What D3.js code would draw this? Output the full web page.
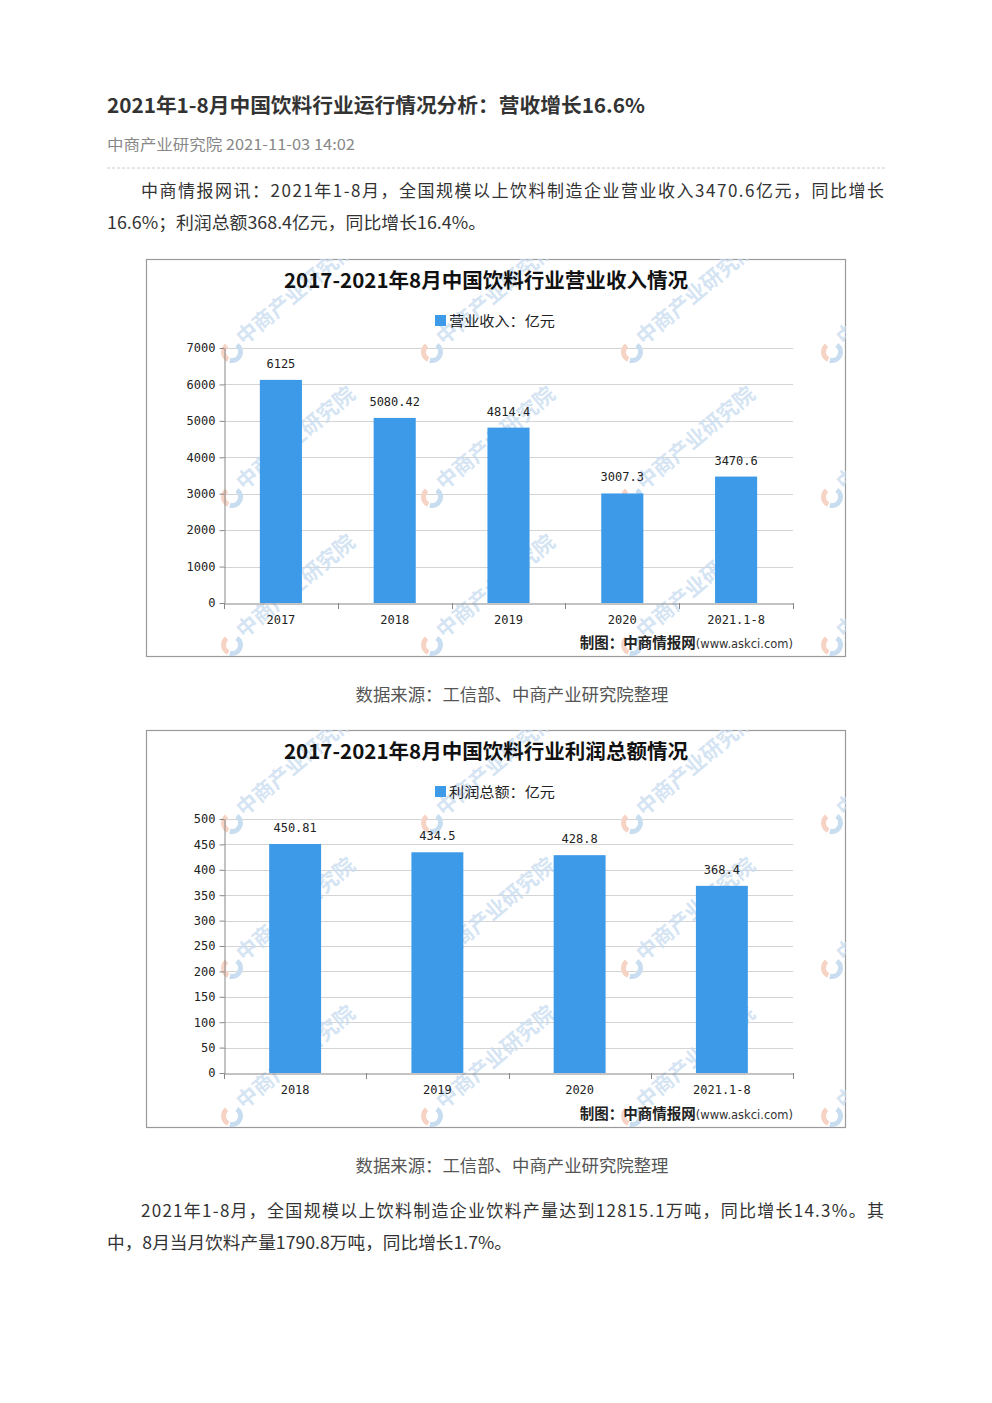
<!DOCTYPE html>
<html><head><meta charset="utf-8">
<script src="https://cdn.jsdelivr.net/npm/d3@7/dist/d3.min.js"></script>
<style>
html,body{margin:0;padding:0;background:#fff;}
svg{display:block;}
</style></head>
<body>
<svg id="page" width="992" height="1403"></svg>
<script>
// ---------- data ----------
const revenueCategories = ["2017", "2018", "2019", "2020", "2021.1-8"];
const revenueValues = [6125, 5080.42, 4814.4, 3007.3, 3470.6];
const revenueLabels = ["6125", "5080.42", "4814.4", "3007.3", "3470.6"];
const revenueTicks = [0, 1000, 2000, 3000, 4000, 5000, 6000, 7000];

const profitCategories = ["2018", "2019", "2020", "2021.1-8"];
const profitValues = [450.81, 434.5, 428.8, 368.4];
const profitLabels = ["450.81", "434.5", "428.8", "368.4"];
const profitTicks = [0, 50, 100, 150, 200, 250, 300, 350, 400, 450, 500];

const pageTitle = "2021年1-8月中国饮料行业运行情况分析：营收增长16.6%";
const pageMeta = "中商产业研究院 2021-11-03 14:02";
const para1 = ["中商情报网讯：2021年1-8月，全国规模以上饮料制造企业营业收入3470.6亿元，同比增长",
               "16.6%；利润总额368.4亿元，同比增长16.4%。"];
const para2 = ["2021年1-8月，全国规模以上饮料制造企业饮料产量达到12815.1万吨，同比增长14.3%。其",
               "中，8月当月饮料产量1790.8万吨，同比增长1.7%。"];
const sourceText = "数据来源：工信部、中商产业研究院整理";
const chart1Title = "2017-2021年8月中国饮料行业营业收入情况";
const chart1Legend = "营业收入：亿元";
const chart2Title = "2017-2021年8月中国饮料行业利润总额情况";
const chart2Legend = "利润总额：亿元";
const creditA = "制图：中商情报网";
const creditB = "(www.askci.com)";
const watermark = "中商产业研究院";

// ---------- page ----------
const svg = d3.select("#page");
const CJK = "'Noto Sans CJK SC','Noto Sans',sans-serif";
const MONO = "'DejaVu Sans Mono','Liberation Mono',monospace";

svg.append("text").attr("x", 107).attr("y", 113)
  .attr("font-family", CJK).attr("font-size", 20).attr("font-weight", 700)
  .attr("fill", "#333").attr("textLength", 538).attr("lengthAdjust", "spacingAndGlyphs")
  .text(pageTitle);
svg.append("text").attr("x", 107).attr("y", 150)
  .attr("font-family", CJK).attr("font-size", 15).attr("fill", "#888")
  .attr("textLength", 248).attr("lengthAdjust", "spacingAndGlyphs")
  .text(pageMeta);
svg.append("line").attr("x1", 107).attr("x2", 885).attr("y1", 168).attr("y2", 168)
  .attr("stroke", "#ccc").attr("stroke-dasharray", "3,2");

function para(lines, y0, len2) {
  svg.append("text").attr("x", 141).attr("y", y0)
    .attr("font-family", CJK).attr("font-size", 17).attr("fill", "#333")
    .attr("textLength", 743).attr("lengthAdjust", "spacing").text(lines[0]);
  svg.append("text").attr("x", 107).attr("y", y0 + 32)
    .attr("font-family", CJK).attr("font-size", 17).attr("fill", "#333")
    .attr("textLength", len2).attr("lengthAdjust", "spacingAndGlyphs")
    .text(lines[1]);
}
para(para1, 197, 379);
para(para2, 1217, 405);

function caption(y) {
  svg.append("text").attr("x", 512).attr("y", y).attr("text-anchor", "middle")
    .attr("font-family", CJK).attr("font-size", 17).attr("fill", "#555")
    .attr("textLength", 313).attr("lengthAdjust", "spacingAndGlyphs")
    .text(sourceText);
}
caption(701);
caption(1172);

// ---------- charts ----------
function drawChart(opt) {
  const g = svg.append("g");
  const bx = 146, bw = 700, by = opt.top, bh = 398;
  const clipId = "clip" + opt.top;
  svg.append("defs").append("clipPath").attr("id", clipId)
    .append("rect").attr("x", bx).attr("y", by).attr("width", bw).attr("height", bh);

  g.append("rect").attr("x", bx + 0.5).attr("y", by + 0.5).attr("width", bw - 1).attr("height", bh - 1)
    .attr("fill", "#fff").attr("stroke", "#9a9a9a").attr("stroke-width", 1.2);

  const plotL = 224, plotR = 793, plotTop = by + opt.plotTopOff, plotBot = by + opt.plotBotOff;
  const x = d3.scaleBand().domain(opt.categories).range([plotL, plotR]).padding(0);
  const y = d3.scaleLinear().domain([0, opt.ticks[opt.ticks.length - 1]]).range([plotBot, plotTop]);

  // grid
  g.selectAll(".grid").data(opt.ticks.slice(1)).join("line")
    .attr("x1", plotL).attr("x2", plotR)
    .attr("y1", d => Math.round(y(d)) + 0.5).attr("y2", d => Math.round(y(d)) + 0.5)
    .attr("stroke", "#d4d4d4").attr("stroke-width", 1);

  // watermarks (behind bars)
  const wm = g.append("g").attr("clip-path", `url(#${clipId})`);
  const wx = [232, 432, 632, 832], wy = [by + 93, by + 238, by + 386];
  const pts = [];
  wx.forEach(a => wy.forEach(b => pts.push([a, b])));
  const w = wm.selectAll("g.wm").data(pts).join("g").attr("transform", d => `translate(${d[0]},${d[1]})`);
  w.append("path").attr("d", d3.arc()({innerRadius: 6, outerRadius: 11, startAngle: 0.6, endAngle: 3.4}))
    .attr("fill", "#c9ddf0");
  w.append("path").attr("d", d3.arc()({innerRadius: 6, outerRadius: 11, startAngle: 3.6, endAngle: 5.6}))
    .attr("fill", "#f6d3c4");
  w.append("text").attr("transform", "translate(12,-6) rotate(-40)")
    .attr("font-family", CJK).attr("font-size", 21).attr("font-weight", 700)
    .attr("fill", "#c8dbef").attr("fill-opacity", 0.75).text(watermark);

  // bars
  const bwid = x.bandwidth() * opt.barRatio;
  g.selectAll(".bar").data(opt.values).join("rect")
    .attr("x", (d, i) => x(opt.categories[i]) + (x.bandwidth() - bwid) / 2)
    .attr("y", d => y(d)).attr("width", bwid).attr("height", d => plotBot - y(d))
    .attr("fill", "#3d9ae8");

  // value labels
  g.selectAll(".vl").data(opt.values).join("text")
    .attr("x", (d, i) => x(opt.categories[i]) + x.bandwidth() / 2)
    .attr("y", d => y(d) - 12).attr("text-anchor", "middle")
    .attr("font-family", MONO).attr("font-size", 12).attr("fill", "#222")
    .text((d, i) => opt.labels[i]);

  // y axis
  const ya = g.append("g").attr("transform", `translate(${plotL + 0.5},0)`)
    .call(d3.axisLeft(y).tickValues(opt.ticks).tickSize(5).tickPadding(4).tickSizeOuter(0).tickFormat(d3.format("d")));
  ya.select(".domain").attr("stroke", "#888");
  ya.selectAll(".tick line").attr("stroke", "#888");
  ya.selectAll(".tick text").attr("font-family", MONO).attr("font-size", 12).attr("fill", "#222");

  // x axis
  const xa = g.append("g").attr("transform", `translate(0,${plotBot + 0.5})`)
    .call(d3.axisBottom(x).tickSize(0).tickPadding(12));
  xa.select(".domain").attr("stroke", "#888");
  xa.selectAll(".tick text").attr("font-family", MONO).attr("font-size", 12).attr("fill", "#222");
  const bounds = opt.categories.map(c => x(c)).concat([plotR]);
  g.selectAll(".xt").data(bounds).join("line")
    .attr("x1", d => Math.round(d) + 0.5).attr("x2", d => Math.round(d) + 0.5)
    .attr("y1", plotBot).attr("y2", plotBot + 6).attr("stroke", "#888");

  // title & legend
  g.append("text").attr("x", 486).attr("y", by + 29).attr("text-anchor", "middle")
    .attr("font-family", CJK).attr("font-size", 20).attr("font-weight", 700).attr("fill", "#111")
    .attr("textLength", 404).attr("lengthAdjust", "spacingAndGlyphs").text(opt.title);
  g.append("rect").attr("x", 435).attr("y", by + 56).attr("width", 11).attr("height", 11).attr("fill", "#3d9ae8");
  g.append("text").attr("x", 449).attr("y", by + 67)
    .attr("font-family", CJK).attr("font-size", 14).attr("fill", "#222")
    .attr("textLength", 106).attr("lengthAdjust", "spacingAndGlyphs").text(opt.legend);

  // credit
  const cr = g.append("text").attr("x", plotR).attr("y", by + 389).attr("text-anchor", "end");
  cr.append("tspan").attr("font-family", CJK).attr("font-size", 14.5).attr("font-weight", 700).attr("fill", "#222")
    .attr("textLength", 116).attr("lengthAdjust", "spacingAndGlyphs").text(creditA);
  cr.append("tspan").attr("font-family", "'DejaVu Sans',sans-serif").attr("font-size", 11.5).attr("fill", "#333").text(creditB);
}

drawChart({top: 259, plotTopOff: 89, plotBotOff: 344, categories: revenueCategories, values: revenueValues,
  labels: revenueLabels, ticks: revenueTicks, barRatio: 0.37, title: chart1Title, legend: chart1Legend});
drawChart({top: 730, plotTopOff: 89, plotBotOff: 343, categories: profitCategories, values: profitValues,
  labels: profitLabels, ticks: profitTicks, barRatio: 0.365, title: chart2Title, legend: chart2Legend});
</script>
</body></html>
